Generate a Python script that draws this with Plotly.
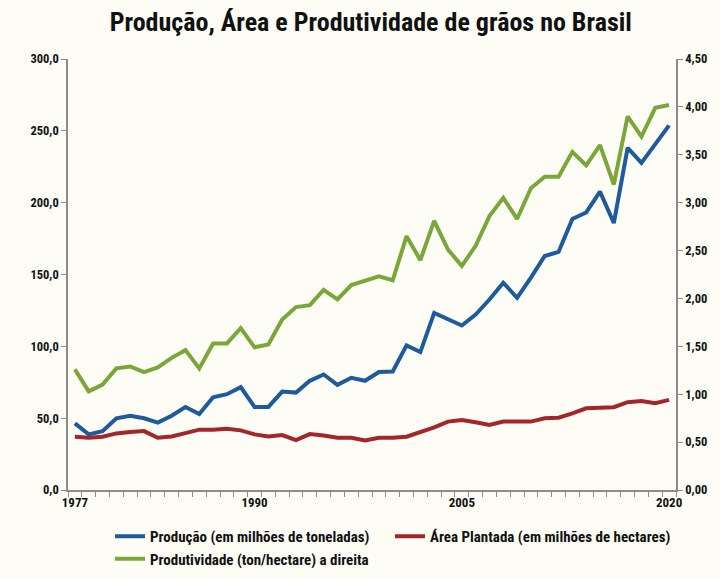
import plotly.graph_objects as go

years = list(range(1977, 2021))

producao = [46.4, 38.7, 41.0, 49.9, 51.7, 49.9, 46.9, 51.7, 57.8, 52.9,
            64.6, 66.7, 71.6, 57.8, 57.8, 68.5, 67.8, 76.0, 80.4, 73.2,
            78.1, 76.0, 82.1, 82.5, 100.7, 96.0, 123.3, 118.6, 114.5, 122.1,
            132.6, 144.3, 133.8, 147.8, 162.9, 165.7, 188.6, 193.2, 207.7, 185.8,
            238.2, 227.7, 241.0, 253.8]

area = [37.1, 36.4, 37.1, 39.4, 40.3, 41.0, 36.4, 37.3, 39.6, 42.0,
        42.0, 42.7, 41.5, 38.7, 37.3, 38.2, 34.7, 38.9, 38.0, 36.4,
        36.4, 34.5, 36.4, 36.4, 37.1, 40.1, 43.6, 47.6, 48.7, 47.1,
        45.2, 47.6, 47.6, 47.6, 49.9, 50.3, 53.4, 56.9, 57.3, 57.6,
        61.1, 62.0, 60.4, 62.7]

produtividade = [1.26, 1.03, 1.10, 1.27, 1.29, 1.23, 1.28, 1.38, 1.46, 1.27,
                 1.53, 1.53, 1.69, 1.49, 1.52, 1.78, 1.91, 1.93, 2.09, 1.99,
                 2.14, 2.18, 2.23, 2.19, 2.65, 2.40, 2.81, 2.51, 2.34, 2.55,
                 2.86, 3.05, 2.83, 3.15, 3.27, 3.27, 3.53, 3.39, 3.60, 3.19,
                 3.90, 3.69, 3.99, 4.02]

x_labels = [1977, 1990, 2005, 2020]

FONT = "Liberation Sans Narrow, Arial Narrow, Roboto Condensed, Liberation Sans, Arial, sans-serif"
BG = "#FDFDF6"
AXC = "#8C8C8C"

fig = go.Figure()
fig.add_trace(go.Scatter(x=years, y=producao, mode="lines", name="Produção (em milhões de toneladas)",
                         line=dict(color="#1F5A9B", width=4)))
fig.add_trace(go.Scatter(x=years, y=area, mode="lines", name="Área Plantada (em milhões de hectares)",
                         line=dict(color="#A3262A", width=4)))
fig.add_trace(go.Scatter(x=years, y=produtividade, mode="lines", name="Produtividade (ton/hectare) a direita",
                         line=dict(color="#7BA73A", width=4), yaxis="y2"))

fig.update_layout(
    width=720, height=578,
    paper_bgcolor=BG, plot_bgcolor=BG,
    separators=",.",
    font=dict(family=FONT, size=12, color="#111111"),
    title=dict(text="<b>Produção, Área e Produtividade de grãos no Brasil</b>",
               x=0.515, xanchor="center", y=1 - 22 / 578, yanchor="middle",
               font=dict(family=FONT, size=26, color="#111111")),
    margin=dict(l=68, r=44, t=59, b=88, autoexpand=False),
    xaxis=dict(range=[1976.5, 2020.5], tickvals=x_labels, ticks="",
               showgrid=False, zeroline=False, showline=True, linecolor=AXC, linewidth=1.5,
               tickfont=dict(family=FONT, size=13, color="#111111", weight="bold"),
               minor=dict(tick0=1976.5, dtick=1, ticks="outside", ticklen=5, tickcolor=AXC, showgrid=False)),
    yaxis=dict(range=[0, 300], dtick=50, tickformat=".1f", ticks="outside", ticklen=5, tickcolor=AXC,
               showgrid=False, zeroline=False, showline=True, linecolor=AXC, linewidth=1.5,
               tickfont=dict(family=FONT, size=12.5, color="#111111", weight="bold")),
    yaxis2=dict(range=[0, 4.5], dtick=0.5, tickformat=".2f", overlaying="y", side="right",
                ticks="outside", ticklen=5, tickcolor=AXC,
                showgrid=False, zeroline=False, showline=True, linecolor=AXC, linewidth=1.5,
                tickfont=dict(family=FONT, size=12.5, color="#111111", weight="bold")),
    legend=dict(orientation="h", xref="container", yref="container",
                x=110 / 720, xanchor="left", y=1 - 520 / 578, yanchor="top",
                entrywidth=235, entrywidthmode="pixels", itemwidth=30,
                bgcolor="rgba(0,0,0,0)",
                font=dict(family=FONT, size=15, color="#111111", weight="bold"),
                tracegroupgap=0),
    showlegend=True,
)

fig.write_html("out.html", config={"displayModeBar": False},
               post_script="document.body.style.margin='0';document.body.style.background='" + BG + "';")
